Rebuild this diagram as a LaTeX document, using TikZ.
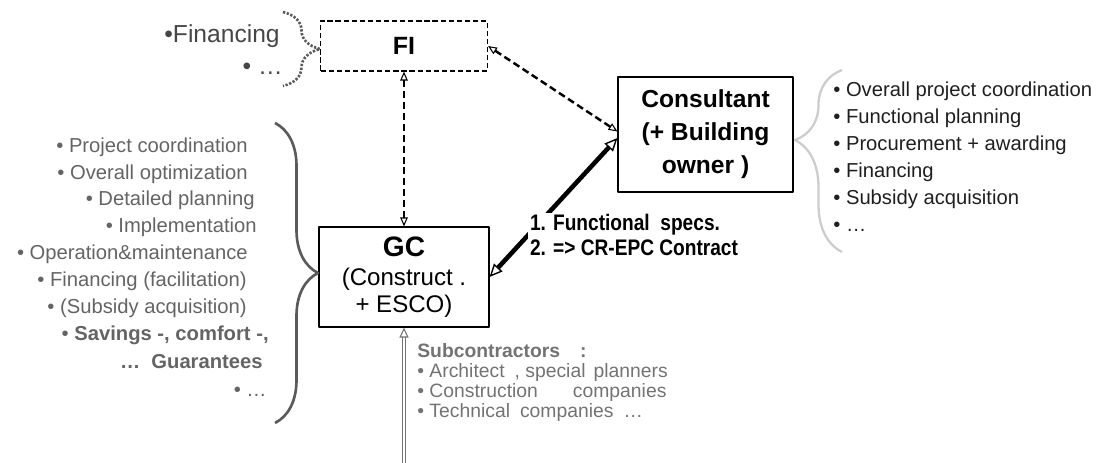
\documentclass[tikz,border=0pt]{standalone}
\usepackage{fontspec}
\setmainfont{Liberation Sans}
\newfontfamily\narrowfont[FakeStretch=0.85]{Liberation Sans}
\usetikzlibrary{arrows.meta,decorations.pathreplacing}
\definecolor{listgray}{RGB}{100,100,100}
\definecolor{bracegray}{RGB}{90,90,90}
\definecolor{lightbrace}{RGB}{205,205,205}
\definecolor{subgray}{RGB}{115,115,115}
\definecolor{fingray}{RGB}{70,70,70}

\begin{document}
\begin{tikzpicture}[x=0.2mm, y=-0.2mm, line join=round, font=\fontsize{11.5}{14}\selectfont,
	box/.style={draw, line width=0.6pt, align=center, inner sep=0pt},
	dashlink/.style={line width=1.4pt, dash pattern=on 4pt off 2.2pt,
		{Triangle[fill=white, length=1.8mm, width=1.5mm, line width=0.6pt]}-{Triangle[fill=white, length=1.8mm, width=1.5mm, line width=0.6pt]}},
	thicklink/.style={line width=2.6pt,
		{Triangle[fill=white, length=2.6mm, width=2.3mm, line width=0.8pt]}-{Triangle[fill=white, length=2.6mm, width=2.3mm, line width=0.8pt]}},
	sublink/.style={draw=subgray, line width=0.8pt, double=white, double distance=1.2pt,
		-{Triangle[fill=white, length=2mm, width=1.8mm, line width=0.6pt]}},
	curly/.style={decorate, decoration={brace, amplitude=#1}},
	item/.style={inner sep=0pt},
	subtext/.style={inner sep=0pt, text=subgray, font=\fontsize{11}{12}\selectfont}]
	\useasboundingbox (0,0) rectangle (1099,463);
	\path
	(404,46) coordinate (FIpos)
	(705.5,134.5) coordinate (CONpos)
	(404,277) coordinate (GCpos)
	(404,463) coordinate (SUBfoot)
	(275,123) coordinate (LBtop)
	(275,423) coordinate (LBbot)
	(842,252) coordinate (RBbot)
	(842,70) coordinate (RBtop)
	(283,12) coordinate (DBtop)
	(283,86) coordinate (DBbot);
	
	% boxes
	\node[box, dashed, dash pattern=on 3pt off 1.6pt, minimum width=33.4mm, minimum height=10mm,
		font=\fontsize{14.2}{16}\selectfont\bfseries] (FI) at (FIpos) {FI};
	\node[box, minimum width=35mm, minimum height=23mm,
		font=\fontsize{14}{18.8}\selectfont\bfseries] (CON) at (CONpos) {Consultant\\(+ Building\\owner )};
	\node[box, minimum width=34mm, minimum height=20mm,
		font=\fontsize{13.7}{15.4}\selectfont] (GC) at (GCpos) {{\fontsize{16}{17}\selectfont\bfseries GC}\\[1pt](Construct .\\+ ESCO)};
	
	% links
	\draw[dashlink] (FI.south) -- (GC.north);
	\draw[dashlink] (FI.east) -- ([yshift=0.6mm]CON.west);
	\draw[thicklink] ([yshift=-0.7mm]CON.west) -- (GC.east);
	\draw[sublink] (SUBfoot) -- (GC.south);
	\node[fill=white, anchor=west, inner sep=1pt, align=left,
		font=\narrowfont\fontsize{12.8}{14.2}\selectfont\bfseries] (SPEC) at (528,235) {1. Functional\ \ specs.\\2. => CR-EPC Contract};
	
	% braces
	\draw[curly=8.6mm, draw=bracegray, line width=1.5pt] (LBtop) -- (LBbot);
	\draw[curly=9.4mm, draw=lightbrace, line width=1.3pt, decoration={aspect=0.615}] (RBbot) -- (RBtop);
	\draw[curly=7.4mm, draw=bracegray, line width=1.5pt, dash pattern=on 1.3pt off 0.9pt] (DBtop) -- (DBbot);
	
	% financing tasks
	\node[item, anchor=base east, text=fingray, font=\fontsize{14}{16}\selectfont] (FINa) at (280,43) {\textbullet Financing};
	\node[item, anchor=base east, text=fingray, font=\fontsize{14}{16}\selectfont] (FINb) at (283,75) {\textbullet\ …};
	
	% general contractor tasks
	\foreach \ypos/\xpos/\txt [count=\i] in {153/248/{\textbullet\ Project coordination},
		180/248/{\textbullet\ Overall optimization}, 206/255/{\textbullet\ Detailed planning},
		233/257/{\textbullet\ Implementation}, 260/248/{\textbullet\ Operation\&maintenance},
		287/247/{\textbullet\ Financing (facilitation)}, 314/247/{\textbullet\ (Subsidy acquisition)},
		341/269/{\textbullet\ \textbf{Savings -, comfort -,}}, 369/263/{\textbf{…\ \ Guarantees}},
		397/267/{\textbullet\ …}}
	\node[item, anchor=base east, text=listgray] (GCtask\i) at (\xpos,\ypos) {\txt};
	
	% consultant tasks
	\foreach \ypos/\txt [count=\i] in {97/Overall project coordination, 124/Functional planning,
		151/Procurement + awarding, 178/Financing, 205/Subsidy acquisition, 232/…}
	\node[item, anchor=base west, text=black!88] (CONtask\i) at (833,\ypos) {\textbullet\ \txt};
	
	% subcontractors
	\node[subtext, anchor=base west] (SUBhead) at (417,358) {\textbf{Subcontractors\hspace{4mm}:}};
	\foreach \ypos/\txt [count=\i] in {378/{Architect\hspace{2mm}, special\hspace{1.6mm}planners},
		398/{Construction\hspace{7mm}companies}, 418/{Technical\hspace{2mm}companies\hspace{2mm}…}}
	\node[subtext, anchor=base west] (SUBitem\i) at (417,\ypos) {\textbullet\ \txt};
\end{tikzpicture}
\end{document}
